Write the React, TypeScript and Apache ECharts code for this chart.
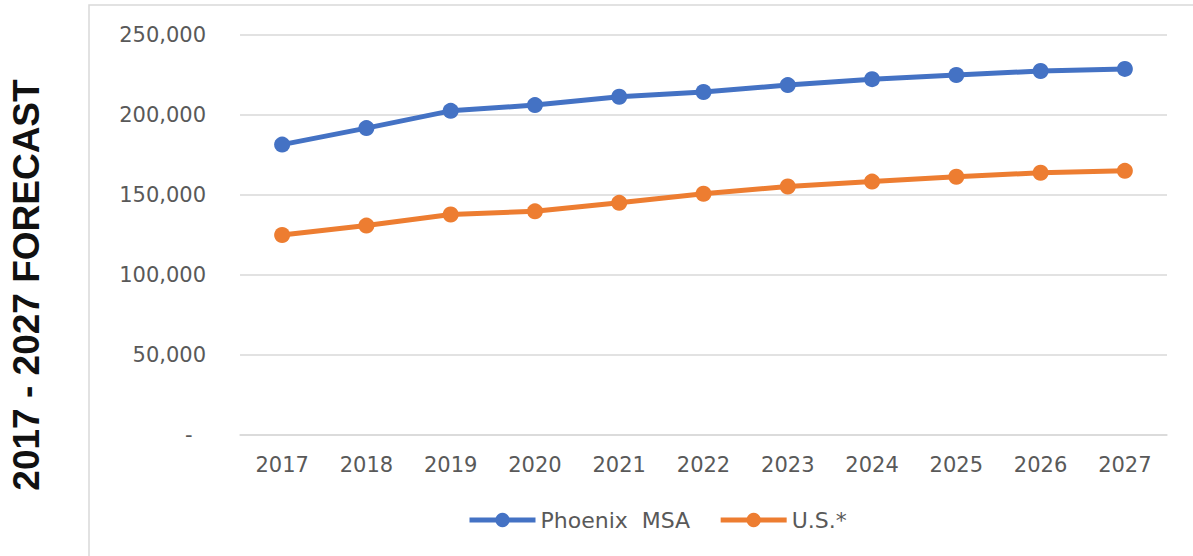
import React, { useEffect, useRef } from "react";
import * as echarts from "echarts";

const years = ["2017", "2018", "2019", "2020", "2021", "2022", "2023", "2024", "2025", "2026", "2027"];
const phoenix = [181500, 191800, 202600, 206200, 211400, 214400, 218700, 222400, 225000, 227500, 228800];
const us = [125000, 130900, 137800, 139800, 145100, 150800, 155300, 158400, 161400, 163900, 165100];
const seriesNames = ["Phoenix  MSA", "U.S.*"];
const sideTitle = "2017 - 2027 FORECAST";

export default function App() {
  const ref = useRef<HTMLDivElement>(null);
  useEffect(() => {
    document.body.style.margin = "0";
    const chart = echarts.init(ref.current!, null, { renderer: "svg" });
    const font = "'DejaVu Sans', 'Open Sans', sans-serif";
    chart.setOption({
      animation: false,
      backgroundColor: "#ffffff",
      graphic: [
        {
          type: "rect",
          shape: { x: 89, y: 5, width: 1200, height: 600 },
          style: { fill: "none", stroke: "#d9d9d9", lineWidth: 1.5 },
          silent: true,
        },
        {
          type: "text",
          x: 26,
          y: 285,
          rotation: Math.PI / 2,
          style: {
            text: sideTitle,
            font: "bold 37px 'Liberation Sans', Arial, sans-serif",
            fill: "#111111",
            align: "center",
            verticalAlign: "middle",
          },
        },
      ],
      grid: { left: 240, right: 26, top: 35, bottom: 121, containLabel: false },
      legend: {
        top: 504,
        left: 462,
        itemWidth: 66,
        itemHeight: 18,
        itemGap: 28,
        lineStyle: { width: 5 },
        textStyle: { fontFamily: font, fontSize: 22, color: "#595959" },
        data: seriesNames,
      },
      xAxis: {
        type: "category",
        data: years,
        boundaryGap: true,
        axisLine: { lineStyle: { color: "#d9d9d9", width: 1.5 } },
        axisTick: { show: false },
        axisLabel: { margin: 19, fontFamily: font, fontSize: 21, color: "#595959" },
      },
      yAxis: {
        type: "value",
        min: 0,
        max: 250000,
        interval: 50000,
        axisLine: { show: false },
        axisTick: { show: false },
        splitLine: { lineStyle: { color: "#d9d9d9", width: 1.5 } },
        axisLabel: {
          margin: 34,
          fontFamily: font,
          fontSize: 21,
          color: "#595959",
          formatter: (v: number) => (v === 0 ? "-  " : v.toLocaleString("en-US")),
        },
      },
      series: [
        {
          name: seriesNames[0],
          type: "line",
          data: phoenix,
          symbol: "circle",
          symbolSize: 16,
          color: "#4472C4",
          lineStyle: { width: 5, color: "#4472C4" },
          itemStyle: { color: "#4472C4" },
        },
        {
          name: seriesNames[1],
          type: "line",
          data: us,
          symbol: "circle",
          symbolSize: 16,
          color: "#ED7D31",
          lineStyle: { width: 5, color: "#ED7D31" },
          itemStyle: { color: "#ED7D31" },
        },
      ],
    });
    return () => chart.dispose();
  }, []);
  return <div ref={ref} style={{ width: 1193, height: 556 }} />;
}
